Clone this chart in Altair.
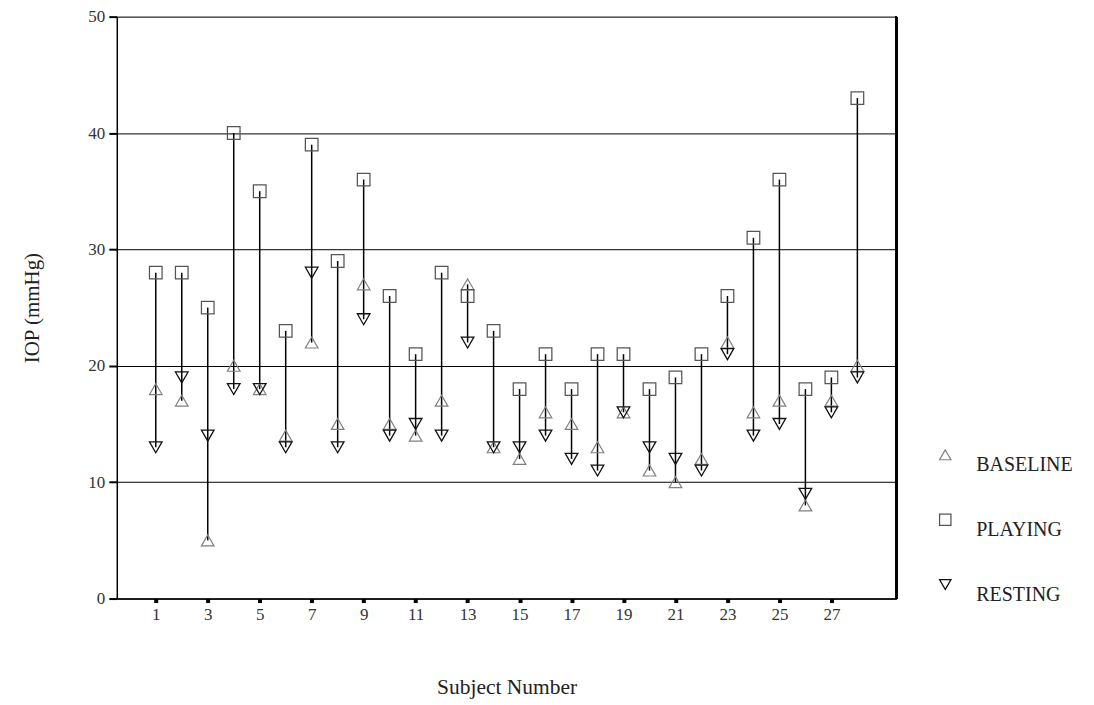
import altair as alt
import pandas as pd

subjects = list(range(1, 29))
baseline = [18, 17, 5, 20, 18, 14, 22, 15, 27, 15, 14, 17, 27, 13, 12, 16, 15, 13, 16, 11, 10, 12, 22, 16, 17, 8, 17, 20]
playing = [28, 28, 25, 40, 35, 23, 39, 29, 36, 26, 21, 28, 26, 23, 18, 21, 18, 21, 21, 18, 19, 21, 26, 31, 36, 18, 19, 43]
resting = [13, 19, 14, 18, 18, 13, 28, 13, 24, 14, 15, 14, 22, 13, 13, 14, 12, 11, 16, 13, 12, 11, 21, 14, 15, 9, 16, 19]
series_names = ["BASELINE", "PLAYING", "RESTING"]
x_ticks = list(range(1, 29))
y_ticks = [0, 10, 20, 30, 40, 50]

rows = []
for name, vals in zip(series_names, [baseline, playing, resting]):
    for s, v in zip(subjects, vals):
        rows.append({"subject": s, "series": name, "value": v})
df = pd.DataFrame(rows)

FONT = "Liberation Serif"

x_enc = alt.X(
    "subject:Q",
    scale=alt.Scale(domain=[-0.5, 29.5], nice=False, zero=False),
    axis=alt.Axis(
        values=x_ticks,
        labelExpr="datum.value % 2 == 1 ? datum.label : ''",
        title="Subject Number",
        grid=False,
        tickSize=4,
        tickWidth=4,
        tickColor="black",
        domainColor="black",
        domainWidth=1.5,
        labelFont=FONT,
        labelFontSize=17,
        labelColor="#333",
        labelPadding=4,
        titleFont=FONT,
        titleFontSize=21.5,
        titleFontWeight="normal",
        titleColor="#222",
        titlePadding=54,
    ),
)

y_scale = alt.Scale(domain=[0, 50], nice=False)
y_axis = alt.Axis(
    values=y_ticks,
    title="IOP (mmHg)",
    grid=True,
    gridColor="black",
    gridOpacity=1,
    gridWidth=1,
    tickSize=8,
    tickColor="black",
    tickWidth=2,
    domainColor="black",
    domainWidth=1.5,
    labelFont=FONT,
    labelFontSize=17,
    labelColor="#333",
    labelPadding=4,
    titleFont=FONT,
    titleFontSize=21,
    titleFontWeight="normal",
    titleColor="#222",
    titlePadding=45,
)

rules = alt.Chart(df).mark_rule(color="black", strokeWidth=1.5).encode(
    x=x_enc,
    y=alt.Y("min(value):Q", scale=y_scale, axis=y_axis),
    y2=alt.Y2("max(value):Q"),
)

border = alt.Chart(df).mark_rule(color="black", strokeWidth=1.5).encode(
    x=alt.value(781), y=alt.value(0), y2=alt.value(583)
)

points = alt.Chart(df).mark_point(filled=False, size=160, opacity=1).encode(
    x=alt.X("subject:Q"),
    y=alt.Y("value:Q"),
    shape=alt.Shape(
        "series:N",
        scale=alt.Scale(domain=series_names, range=["triangle-up", "square", "triangle-down"]),
        legend=alt.Legend(title=None),
    ),
    color=alt.Color(
        "series:N",
        scale=alt.Scale(domain=series_names, range=["#808080", "#555555", "#111111"]),
        legend=alt.Legend(
            title=None,
            orient="none",
            legendX=820,
            legendY=429,
            labelFont=FONT,
            labelFontSize=20,
            labelColor="#222",
            labelOffset=21,
            labelBaseline="top",
            rowPadding=35,
            symbolSize=130,
            symbolStrokeWidth=1.5,
            symbolFillColor="transparent",
        ),
    ),
    strokeWidth=alt.StrokeWidth(
        "series:N",
        scale=alt.Scale(domain=series_names, range=[1.2, 1.3, 2]),
        legend=None,
    ),
)

chart = (
    alt.layer(rules, border, points)
    .properties(
        width=781,
        height=583,
        autosize=alt.AutoSizeParams(type="none"),
        padding={"left": 109, "top": 8, "right": 190, "bottom": 112},
    )
    .configure_view(stroke="black", strokeWidth=1.5)
    .configure(background="white")
)

chart.save("out.html", embed_options={"renderer": "svg", "actions": False})
